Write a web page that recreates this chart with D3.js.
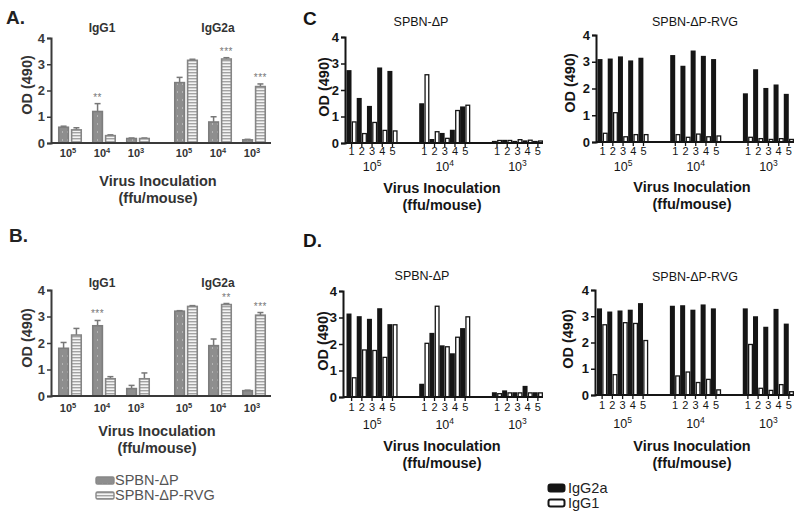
<!DOCTYPE html>
<html><head><meta charset="utf-8">
<script src="https://cdn.jsdelivr.net/npm/d3@7"></script>
<style>
body{margin:0;background:#fff}
svg{display:block;font-family:"Liberation Sans",Arial,Helvetica,sans-serif}
</style>
</head><body>
<svg id="c" width="800" height="516"></svg>
<script>
// ---------------- DATA ----------------
const isotypes = ["IgG1", "IgG2a"];
const doseKeys = ["1e5", "1e4", "1e3"];
const doseExp = ["5", "4", "3"];
const viruses = ["SPBN-ΔP", "SPBN-ΔP-RVG"];
const subjects = ["1", "2", "3", "4", "5"];
const yTicks = [0, 1, 2, 3, 4];

// Panels A & B: order IgG1 1e5,1e4,1e3, IgG2a 1e5,1e4,1e3
const aDeltaP      = [0.60, 1.20, 0.17, 2.30, 0.80, 0.12];
const aDeltaPErr   = [0.04, 0.30, 0.02, 0.20, 0.20, 0.02];
const aDeltaPStars = ["", "**", "", "", "", ""];
const aRVG         = [0.50, 0.28, 0.17, 3.15, 3.20, 2.15];
const aRVGErr      = [0.08, 0.03, 0.02, 0.04, 0.05, 0.10];
const aRVGStars    = ["", "", "", "", "***", "***"];

const bDeltaP      = [1.80, 2.65, 0.28, 3.20, 1.90, 0.20];
const bDeltaPErr   = [0.22, 0.20, 0.12, 0.02, 0.25, 0.02];
const bDeltaPStars = ["", "***", "", "", "", ""];
const bRVG         = [2.30, 0.65, 0.65, 3.38, 3.45, 3.05];
const bRVGErr      = [0.25, 0.08, 0.22, 0.03, 0.04, 0.10];
const bRVGStars    = ["", "", "", "", "**", "***"];

// Panels C & D: per dose (1e5,1e4,1e3) x subject 1..5
const cLeftIgG2a  = [2.75,1.70,1.40,2.85,2.72, 1.50,0.15,0.38,0.50,1.38, 0.08,0.12,0.08,0.10,0.08];
const cLeftIgG1   = [0.82,0.38,0.80,0.50,0.48, 2.60,0.45,0.20,1.25,1.45, 0.12,0.12,0.15,0.13,0.10];
const cRightIgG2a = [3.10,3.12,3.20,3.05,3.15, 3.25,2.85,3.42,3.22,3.10, 1.82,2.72,2.02,2.15,1.80];
const cRightIgG1  = [0.35,1.12,0.22,0.30,0.30, 0.30,0.20,0.32,0.22,0.25, 0.20,0.15,0.12,0.15,0.12];
const dLeftIgG2a  = [3.15,3.05,2.95,3.35,2.75, 0.50,2.42,1.95,1.65,2.60, 0.18,0.25,0.18,0.42,0.18];
const dLeftIgG1   = [0.75,1.80,1.78,1.52,2.75, 2.05,3.45,1.92,2.28,3.05, 0.15,0.18,0.18,0.18,0.18];
const dRightIgG2a = [3.30,3.18,3.22,3.25,3.50, 3.40,3.42,3.25,3.45,3.30, 3.30,3.00,2.60,3.28,2.72];
const dRightIgG1  = [2.70,0.80,2.78,2.75,2.10, 0.75,0.90,0.50,0.62,0.22, 1.95,0.28,0.20,0.42,0.15];

const legendCD = ["IgG2a", "IgG1"];

// ---------------- DRAWING ----------------
const svg = d3.select("#c");
const defs = svg.append("defs");
const pDot = defs.append("pattern").attr("id", "dots").attr("patternUnits", "userSpaceOnUse").attr("width", 5).attr("height", 8);
pDot.append("rect").attr("width", 5).attr("height", 8).attr("fill", "#8e8e8e");
pDot.append("rect").attr("x", 2).attr("y", 3).attr("width", 1).attr("height", 2).attr("fill", "#b4b4b4");
const pStr = defs.append("pattern").attr("id", "stripes").attr("patternUnits", "userSpaceOnUse").attr("width", 4).attr("height", 3);
pStr.append("rect").attr("width", 4).attr("height", 3).attr("fill", "#f4f4f4");
pStr.append("rect").attr("width", 4).attr("height", 1.4).attr("fill", "#a3a3a3");

const TITLE_FS = 14.5, TITLE_GAP = 16.5;

function powLabel(sel, x, y, exp, size, color, weight) {
  const t = sel.append("text").attr("x", x).attr("y", y).attr("text-anchor", "middle")
    .attr("font-size", size).attr("fill", color).attr("font-weight", weight || "normal");
  t.append("tspan").text("10");
  t.append("tspan").attr("dy", -size * 0.38).attr("font-size", size * 0.68).text(exp);
}

function yAxis(g, y, x, color, fs) {
  const ax = g.append("g").attr("transform", `translate(${x},0)`)
    .call(d3.axisLeft(y).tickValues(yTicks).tickSize(4).tickPadding(2).tickFormat(d3.format("d")));
  ax.select(".domain").attr("stroke", color).attr("stroke-width", 2);
  ax.selectAll(".tick line").attr("stroke", color).attr("stroke-width", 1.5);
  ax.selectAll(".tick text").attr("font-size", fs).attr("font-weight", "bold").attr("fill", color)
    .attr("font-family", "'Liberation Sans',Arial,sans-serif");
}

function axisTitle(g, x, y, color) {
  g.append("text").attr("x", x).attr("y", y).attr("text-anchor", "middle")
    .attr("font-size", TITLE_FS).attr("font-weight", "bold").attr("fill", color).text("Virus Inoculation");
  g.append("text").attr("x", x).attr("y", y + TITLE_GAP).attr("text-anchor", "middle")
    .attr("font-size", TITLE_FS).attr("font-weight", "bold").attr("fill", color).text("(ffu/mouse)");
}

function groupPanel(o) {
  const g = svg.append("g");
  const y = d3.scaleLinear().domain([0, 4]).range([o.y0, o.y4]);
  const outer = d3.scaleBand().domain(isotypes).range([o.xStart, o.xEnd]).paddingInner(0.121);
  const inner = d3.scaleBand().domain(doseKeys).range([0, outer.bandwidth()]);
  const vir = d3.scaleBand().domain(viruses).range([0, inner.bandwidth()]).paddingInner(0.25).paddingOuter(0.45);
  const rows = [];
  isotypes.forEach((iso, i) => doseKeys.forEach((d, j) => {
    const k = i * 3 + j;
    rows.push({iso, d, vir: viruses[0], v: o.dp[k], e: o.dpErr[k], s: o.dpStars[k]});
    rows.push({iso, d, vir: viruses[1], v: o.rvg[k], e: o.rvgErr[k], s: o.rvgStars[k]});
  }));
  const bx = r => outer(r.iso) + inner(r.d) + vir(r.vir);
  g.selectAll("line.err").data(rows).join("line")
    .attr("x1", r => bx(r) + vir.bandwidth() / 2).attr("x2", r => bx(r) + vir.bandwidth() / 2)
    .attr("y1", r => y(r.v)).attr("y2", r => y(r.v + r.e)).attr("stroke", "#777").attr("stroke-width", 1.5);
  g.selectAll("line.cap").data(rows).join("line")
    .attr("x1", r => bx(r) + vir.bandwidth() / 2 - 3).attr("x2", r => bx(r) + vir.bandwidth() / 2 + 3)
    .attr("y1", r => y(r.v + r.e)).attr("y2", r => y(r.v + r.e)).attr("stroke", "#777").attr("stroke-width", 1.5);
  g.selectAll("rect.bar").data(rows).join("rect")
    .attr("x", bx).attr("width", vir.bandwidth())
    .attr("y", r => y(r.v)).attr("height", r => y(0) - y(r.v))
    .attr("fill", r => r.vir === viruses[0] ? "url(#dots)" : "url(#stripes)")
    .attr("stroke", r => r.vir === viruses[0] ? "#7d7d7d" : "#858585").attr("stroke-width", 1.6);
  g.selectAll("text.star").data(rows.filter(r => r.s)).join("text")
    .attr("x", r => bx(r) + vir.bandwidth() / 2).attr("y", r => y(r.v + r.e) - 3)
    .attr("text-anchor", "middle").attr("font-size", 10).attr("fill", "#777").attr("letter-spacing", 0.5)
    .text(r => r.s);
  g.append("line").attr("x1", o.axisX).attr("x2", o.xEnd).attr("y1", y(0)).attr("y2", y(0))
    .attr("stroke", "#3a3a3a").attr("stroke-width", 2.2);
  yAxis(g, y, o.axisX, "#3a3a3a", 13);
  isotypes.forEach(iso => doseKeys.forEach((d, j) => {
    powLabel(g, outer(iso) + inner(d) + inner.bandwidth() / 2 - 2, o.tickY, doseExp[j], 11, "#333", "bold");
  }));
  isotypes.forEach(iso => {
    g.append("text").attr("x", outer(iso) + outer.bandwidth() / 2 - 2).attr("y", o.isoY)
      .attr("text-anchor", "middle").attr("font-size", 12).attr("font-weight", "bold").attr("fill", "#333").text(iso);
  });
  g.append("text").attr("transform", `translate(${o.ylabX},${o.ylabY}) rotate(-90)`)
    .attr("text-anchor", "middle").attr("font-size", 14.5).attr("font-weight", "bold").attr("fill", "#333").text("OD (490)");
  axisTitle(g, o.titleX, o.titleY, "#333");
  g.append("text").attr("x", o.letterX).attr("y", o.letterY).attr("font-size", 19).attr("font-weight", "bold")
    .attr("fill", "#222").text(o.letter);
}

function subjectPanel(o) {
  const g = svg.append("g");
  const y = d3.scaleLinear().domain([0, 4]).range([o.y0, o.y4]);
  const outer = d3.scaleBand().domain(doseKeys).range([o.xStart, o.xEnd]).paddingInner(0.297);
  const subj = d3.scaleBand().domain(subjects).range([0, outer.bandwidth()]);
  const iso = d3.scaleBand().domain(legendCD).range([0, subj.bandwidth()]).paddingInner(0.04);
  const rows = [];
  doseKeys.forEach((d, j) => subjects.forEach((s, k) => {
    rows.push({d, s, iso: "IgG2a", v: o.g2a[j * 5 + k]});
    rows.push({d, s, iso: "IgG1", v: o.g1[j * 5 + k]});
  }));
  const bx = r => outer(r.d) + subj(r.s) + iso(r.iso);
  const sw = 1.3;
  g.selectAll("rect.bar").data(rows).join("rect")
    .attr("x", r => r.iso === "IgG2a" ? bx(r) : bx(r) + sw / 2)
    .attr("width", r => r.iso === "IgG2a" ? iso.bandwidth() : iso.bandwidth() - sw)
    .attr("y", r => r.iso === "IgG2a" ? y(r.v) : y(r.v) + sw / 2)
    .attr("height", r => y(0) - y(r.v) - (r.iso === "IgG2a" ? 0 : sw / 2))
    .attr("fill", r => r.iso === "IgG2a" ? "#151515" : "#fff")
    .attr("stroke", r => r.iso === "IgG2a" ? "none" : "#151515").attr("stroke-width", sw);
  g.append("line").attr("x1", o.axisX).attr("x2", o.xEnd).attr("y1", y(0)).attr("y2", y(0))
    .attr("stroke", "#151515").attr("stroke-width", 2);
  yAxis(g, y, o.axisX, "#151515", 13);
  doseKeys.forEach((d, j) => {
    subjects.forEach(s => {
      const cx = outer(d) + subj(s) + subj.bandwidth() / 2;
      g.append("line").attr("x1", cx).attr("x2", cx).attr("y1", y(0)).attr("y2", y(0) + 4)
        .attr("stroke", "#151515").attr("stroke-width", 1.3);
      g.append("text").attr("x", cx).attr("y", o.numY).attr("text-anchor", "middle")
        .attr("font-size", 11).attr("fill", "#151515").text(s);
    });
    powLabel(g, outer(d) + outer.bandwidth() / 2, o.doseY, doseExp[j], 12.5, "#151515");
  });
  g.append("text").attr("x", o.headX).attr("y", o.headY).attr("text-anchor", "middle")
    .attr("font-size", 12.5).attr("fill", "#151515").text(o.head);
  g.append("text").attr("transform", `translate(${o.ylabX},${o.ylabY}) rotate(-90)`)
    .attr("text-anchor", "middle").attr("font-size", 14.5).attr("font-weight", "bold").attr("fill", "#151515").text("OD (490)");
  axisTitle(g, o.titleX, o.titleY, "#151515");
  if (o.letter) g.append("text").attr("x", o.letterX).attr("y", o.letterY).attr("font-size", 19).attr("font-weight", "bold")
    .attr("fill", "#151515").text(o.letter);
}

groupPanel({dp: aDeltaP, dpErr: aDeltaPErr, dpStars: aDeltaPStars, rvg: aRVG, rvgErr: aRVGErr, rvgStars: aRVGStars,
  y0: 143, y4: 38, axisX: 51, xStart: 53, xEnd: 271, tickY: 157, isoY: 32, ylabX: 32, ylabY: 85,
  titleX: 158, titleY: 186, letter: "A.", letterX: 6, letterY: 24});
groupPanel({dp: bDeltaP, dpErr: bDeltaPErr, dpStars: bDeltaPStars, rvg: bRVG, rvgErr: bRVGErr, rvgStars: bRVGStars,
  y0: 396, y4: 290, axisX: 51, xStart: 53, xEnd: 271, tickY: 412, isoY: 287, ylabX: 32, ylabY: 338,
  titleX: 157, titleY: 436, letter: "B.", letterX: 9, letterY: 242});

subjectPanel({g2a: cLeftIgG2a, g1: cLeftIgG1, y0: 143, y4: 37, axisX: 345, xStart: 346.5, xEnd: 543,
  numY: 155, doseY: 171, head: "SPBN-ΔP", headX: 421, headY: 26, ylabX: 329, ylabY: 87,
  titleX: 442, titleY: 193, letter: "C", letterX: 303, letterY: 25});
subjectPanel({g2a: cRightIgG2a, g1: cRightIgG1, y0: 142, y4: 35, axisX: 596, xStart: 597.5, xEnd: 794,
  numY: 155, doseY: 171, head: "SPBN-ΔP-RVG", headX: 695, headY: 26, ylabX: 575, ylabY: 83,
  titleX: 692, titleY: 192});
subjectPanel({g2a: dLeftIgG2a, g1: dLeftIgG1, y0: 397, y4: 291, axisX: 343, xStart: 346.5, xEnd: 543,
  numY: 411, doseY: 429, head: "SPBN-ΔP", headX: 422, headY: 280, ylabX: 328, ylabY: 341,
  titleX: 442, titleY: 451, letter: "D.", letterX: 303, letterY: 247});
subjectPanel({g2a: dRightIgG2a, g1: dRightIgG1, y0: 395, y4: 290, axisX: 595, xStart: 597, xEnd: 794,
  numY: 409, doseY: 428, head: "SPBN-ΔP-RVG", headX: 695, headY: 281, ylabX: 573, ylabY: 339,
  titleX: 692, titleY: 451});

// Legend A/B
const legAB = svg.append("g");
viruses.forEach((v, i) => {
  legAB.append("rect").attr("x", 96).attr("y", 477 + i * 15).attr("width", 18).attr("height", 7).attr("rx", 1.5)
    .attr("fill", i === 0 ? "url(#dots)" : "url(#stripes)").attr("stroke", "#888").attr("stroke-width", 1.4);
  legAB.append("text").attr("x", 115).attr("y", 485 + i * 15).attr("font-size", 14.5).attr("fill", "#555").text(v);
});
// Legend C/D
const legCD = svg.append("g");
legendCD.forEach((v, i) => {
  legCD.append("rect").attr("x", 548.5).attr("y", 484.5 + i * 15).attr("width", 16).attr("height", 7).attr("rx", 2)
    .attr("fill", i === 0 ? "#151515" : "#fff").attr("stroke", "#151515").attr("stroke-width", 2);
  legCD.append("text").attr("x", 568).attr("y", 493 + i * 15).attr("font-size", 14.5).attr("fill", "#222").text(v);
});
</script>
</body></html>
